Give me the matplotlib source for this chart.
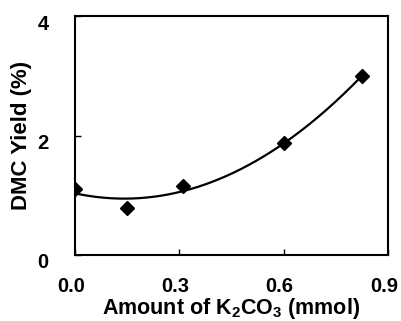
import numpy as np
import matplotlib
matplotlib.use("Agg")
import matplotlib.pyplot as plt
import matplotlib.transforms as mtransforms

plt.rcParams['font.family'] = ['Liberation Sans', 'DejaVu Sans']
plt.rcParams['font.weight'] = 'bold'
plt.rcParams['mathtext.fontset'] = 'custom'
plt.rcParams['mathtext.bf'] = 'Liberation Sans:bold'
plt.rcParams['mathtext.rm'] = 'Liberation Sans:bold'

# data
k2co3 = [0.0, 0.15, 0.31, 0.60, 0.826]
dmc_yield = [1.10, 0.79, 1.155, 1.88, 2.99]

fig = plt.figure(figsize=(4.01, 3.21), dpi=100)
ax = fig.add_axes([75 / 401, 1 - 255 / 321, 313 / 401, 239 / 321])

# quadratic trend line (like the Excel one)
coef = np.polyfit(k2co3, dmc_yield, 2)
xs = np.linspace(min(k2co3), max(k2co3), 200)
ax.plot(xs, np.polyval(coef, xs), color='black', lw=1.6)
ax.plot(k2co3, dmc_yield, 'D', color='black', ms=7)

ax.set_xlim(0, 0.9)
ax.set_ylim(0, 4)
ax.set_xticks([0.0, 0.3, 0.6, 0.9])
ax.set_xticklabels(["0.0", "0.3", "0.6", "0.9"], fontweight='bold')
ax.set_yticks([0, 2, 4])
ax.set_yticklabels(["0", "2", "4"], fontweight='bold')
ax.tick_params(direction='in', length=4, width=1, labelsize=14.5)
ax.tick_params(axis='y', pad=19)
ax.tick_params(axis='x', pad=16)
for s in ax.spines.values():
    s.set_linewidth(1.5)

# Excel-style label offsets
off_y = mtransforms.ScaledTranslation(0, -6 / 100, fig.dpi_scale_trans)
for t in ax.get_yticklabels():
    t.set_transform(t.get_transform() + off_y)
off_x = mtransforms.ScaledTranslation(-4 / 100, 0, fig.dpi_scale_trans)
for t in ax.get_xticklabels():
    t.set_transform(t.get_transform() + off_x)

ax.set_xlabel("Amount of K$_\\mathbf{2}$CO$_\\mathbf{3}$ (mmol)", fontsize=15.5, fontweight='bold', labelpad=0)
ax.set_ylabel("DMC Yield (%)", fontsize=16, fontweight='bold')
ax.yaxis.set_label_coords(-43 / 313, 0.5)

fig.savefig("out.png", dpi=100)
